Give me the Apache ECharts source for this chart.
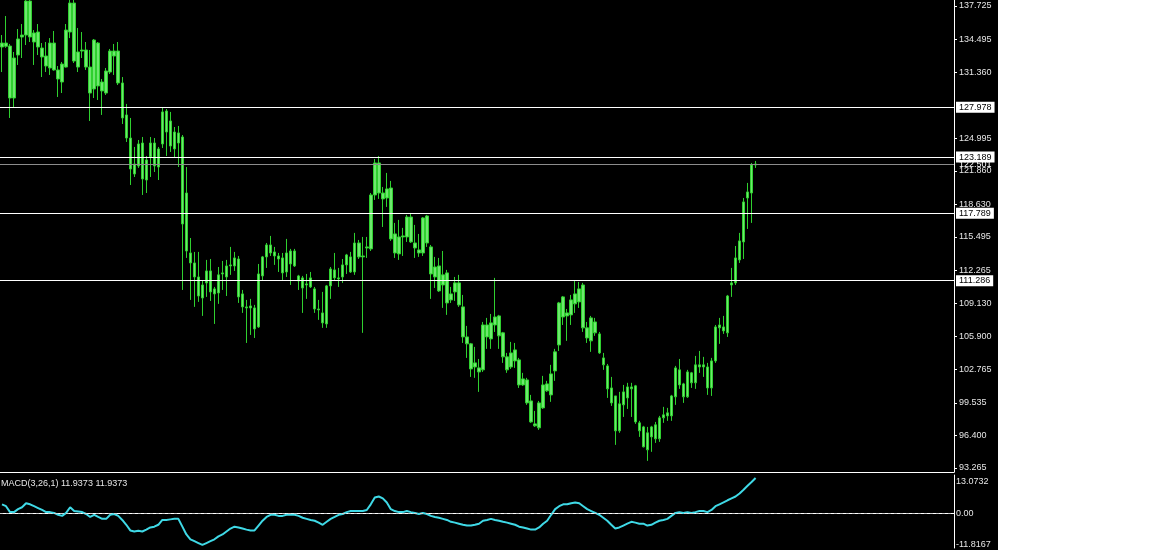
<!DOCTYPE html>
<html>
<head>
<meta charset="utf-8">
<script src="https://cdn.jsdelivr.net/npm/echarts@6/dist/echarts.min.js"></script>
<style>
html,body{margin:0;padding:0;background:#fff;}
#chart{width:998px;height:550px;}
</style>
</head>
<body>
<div id="chart"></div>
<script>
// ---- data ----
const opens  = [133.78,134.16,133.87,128.87,133.01,134.74,134.93,138.20,135.13,133.78,133.68,132.91,131.76,134.16,131.57,130.41,131.85,135.22,138.01,131.85,133.39,133.49,131.85,129.74,134.16,130.41,129.35,131.37,133.39,133.39,130.32,127.24,125.02,121.56,122.33,124.54,120.98,123.20,124.54,122.23,124.45,127.62,126.66,123.97,125.51,125.12,119.73,113.96,113.00,111.65,109.63,111.08,112.23,110.50,110.11,111.94,111.65,112.71,112.71,113.38,110.02,108.77,108.67,108.67,106.84,111.75,113.58,114.73,114.06,113.67,113.48,112.13,112.90,114.15,111.75,111.56,110.88,110.69,110.50,108.57,108.19,107.13,110.79,112.33,111.56,111.65,112.81,113.58,112.13,114.92,113.58,114.44,114.35,119.54,122.62,119.73,119.25,120.21,115.79,113.87,115.50,115.50,117.42,114.92,114.25,113.96,117.52,114.54,111.65,112.71,110.88,112.04,109.44,110.21,111.08,108.77,105.88,105.21,102.99,102.90,102.71,107.03,105.69,107.03,107.90,106.27,103.96,102.99,104.63,103.67,101.26,101.74,99.72,97.51,97.13,99.05,101.36,100.30,102.61,105.11,109.73,107.90,108.00,109.06,109.25,110.88,106.75,105.50,107.32,106.17,103.86,103.09,100.97,100.20,96.84,99.34,100.01,101.07,101.17,97.61,95.30,96.65,96.26,97.42,96.07,98.09,98.28,98.28,100.11,102.71,101.36,100.11,102.42,101.46,103.19,102.99,102.99,100.97,103.57,106.75,106.84,106.27,110.88,111.08,113.29,115.02,119.25,119.73,122.43];
const closes = [134.16,133.85,128.87,132.72,134.55,134.93,138.20,134.74,134.26,135.22,132.82,131.95,134.16,131.57,130.70,132.14,135.41,138.01,132.43,133.30,133.49,131.85,129.35,134.45,130.03,129.55,131.47,133.39,132.91,130.32,126.95,125.02,122.04,122.52,124.45,121.08,122.91,124.54,122.33,123.97,127.53,125.60,124.25,125.60,124.54,116.75,114.15,113.00,111.65,109.82,110.88,112.23,110.21,110.02,111.85,112.04,112.71,112.81,113.48,109.73,108.77,108.67,108.86,106.65,111.94,113.58,114.73,113.96,113.67,113.38,112.04,113.96,114.15,112.71,111.27,110.59,110.98,111.56,108.57,108.48,107.23,110.79,112.42,111.56,111.46,112.81,113.77,112.13,114.92,113.58,113.67,114.54,119.54,122.62,119.73,119.16,120.12,115.31,113.96,115.50,115.60,117.42,115.02,114.44,113.96,117.33,114.92,111.94,112.61,110.31,111.85,109.15,110.02,111.08,108.96,105.88,105.21,102.80,103.38,102.51,107.03,105.88,107.23,107.80,105.98,103.96,102.71,104.34,103.57,101.26,101.84,99.53,97.70,97.32,99.53,101.26,100.69,102.32,104.44,109.15,107.80,108.19,109.44,110.02,110.50,106.75,105.78,107.71,106.27,104.34,103.19,100.88,99.53,96.84,99.44,100.59,101.07,100.88,97.70,96.84,97.22,95.01,97.22,96.07,98.09,98.38,98.57,100.20,102.90,101.26,100.11,102.51,101.46,103.19,102.99,103.19,100.97,103.57,106.84,107.03,106.46,109.82,111.08,113.48,115.12,118.87,119.83,122.43,122.52];
const lows   = [131.37,133.70,126.95,127.91,132.05,132.72,133.97,134.26,132.05,133.01,130.89,131.37,131.09,131.50,128.97,129.35,131.80,134.64,132.24,131.37,132.72,131.57,126.66,128.87,128.68,127.24,129.16,131.18,131.09,130.12,126.37,124.64,120.50,121.27,122.14,119.54,119.73,121.27,121.75,120.98,124.06,123.29,123.68,123.10,122.23,110.40,113.48,109.44,108.77,109.25,107.90,109.73,109.34,107.13,109.06,110.40,109.82,111.85,112.23,109.15,108.19,105.30,106.07,105.78,106.75,111.27,112.52,113.67,112.81,112.13,111.36,111.65,110.88,112.61,110.40,108.19,109.54,110.59,108.19,107.52,106.75,106.75,109.54,111.27,110.69,111.08,111.94,112.04,111.85,113.38,106.27,113.48,114.15,119.06,119.16,116.46,118.39,115.12,113.48,113.29,113.67,115.02,114.92,113.48,113.58,113.67,114.54,109.54,110.59,110.21,108.67,108.00,109.15,109.34,108.77,105.30,103.86,102.03,101.94,100.59,102.51,104.73,104.73,106.36,104.73,103.38,102.42,102.80,102.90,100.97,101.17,99.34,97.61,97.22,96.93,98.95,100.59,99.63,101.65,104.53,107.03,105.50,107.03,108.19,108.67,106.36,105.30,104.44,105.98,104.25,102.71,100.01,99.24,95.49,96.65,98.18,98.95,98.18,97.51,96.26,95.25,93.95,94.82,95.68,95.78,97.61,97.80,97.80,99.34,100.88,99.53,100.01,100.97,100.88,102.42,102.03,100.30,100.20,103.38,105.21,106.17,105.88,109.73,110.88,113.00,113.38,116.27,116.85,122.14];
const highs  = [134.93,136.76,134.07,133.30,135.51,135.99,138.30,138.30,135.41,135.99,134.16,134.26,134.64,135.32,131.95,132.34,135.99,138.30,138.30,135.61,135.22,134.26,133.49,134.55,134.26,130.70,131.76,133.59,134.07,134.26,130.89,128.30,126.95,124.16,124.83,125.12,123.29,125.12,125.02,124.16,127.91,127.81,127.53,126.08,126.18,125.31,122.23,115.40,114.06,114.06,111.27,113.29,113.38,110.69,112.61,113.19,113.29,114.54,114.06,113.67,110.40,109.44,109.54,108.96,112.90,113.67,114.92,115.60,114.54,113.96,113.96,115.31,114.35,114.35,111.85,111.75,111.94,112.13,110.69,109.44,110.21,110.88,112.61,113.96,112.52,113.38,113.87,114.06,115.89,115.21,115.50,115.50,119.73,123.00,123.29,120.31,121.66,120.89,116.85,117.14,116.37,117.62,117.81,116.66,115.79,117.42,117.62,114.73,113.58,113.48,114.15,112.33,110.69,111.65,111.85,109.92,106.94,105.30,104.92,103.76,107.32,107.71,108.09,111.56,108.00,106.36,104.34,105.40,105.30,103.86,102.42,101.94,100.30,98.76,99.72,102.13,101.65,103.19,104.73,109.25,109.82,108.57,109.92,111.27,111.17,111.08,107.32,107.90,107.71,106.36,104.34,103.28,102.03,100.20,100.59,101.26,101.46,101.46,101.26,97.80,97.32,97.22,97.32,97.70,98.28,99.15,99.05,100.30,103.09,103.76,101.46,102.71,102.51,104.05,104.53,103.96,103.38,103.86,107.03,107.71,107.90,109.92,112.52,114.63,115.89,119.25,120.70,122.62,122.81];
const macdValues = [3.3,2.6,0.4,0.4,1.5,2.2,3.7,3.3,2.6,1.9,1.2,0.4,0.4,0.1,-0.6,-1.0,0.1,2.2,0.8,0.6,0.4,-0.3,-1.4,-0.6,-1.4,-2.1,-2.1,-0.6,-0.3,-1.0,-2.5,-4.3,-6.4,-6.8,-6.5,-6.8,-6.1,-5.3,-5.0,-4.3,-2.5,-2.5,-2.3,-2.1,-2.1,-5.0,-7.9,-9.7,-10.4,-11.1,-11.8,-11.1,-10.4,-9.7,-8.6,-7.9,-6.8,-5.7,-5.0,-5.3,-5.7,-6.1,-6.4,-6.4,-4.6,-2.8,-1.4,-0.6,-0.6,-1.0,-1.0,-0.6,-0.6,-0.6,-1.0,-1.7,-2.1,-2.5,-2.8,-3.5,-4.3,-3.2,-2.1,-1.4,-0.6,-0.3,0.4,0.8,0.8,0.8,0.8,1.2,3.3,5.8,6.2,5.5,4.0,1.5,0.8,0.4,0.4,0.8,0.4,0.1,-0.3,0.1,-0.3,-1.0,-1.4,-1.7,-2.1,-2.5,-3.2,-3.5,-3.9,-4.3,-4.6,-4.6,-4.3,-3.9,-2.8,-2.5,-2.1,-2.5,-2.8,-3.2,-3.5,-3.9,-4.3,-5.0,-5.3,-5.7,-6.1,-6.1,-5.3,-3.9,-2.8,-0.6,1.5,2.6,3.3,3.3,3.7,4.0,3.7,2.6,1.5,0.8,0.1,-0.6,-1.7,-2.8,-4.3,-5.7,-5.3,-4.6,-3.9,-3.2,-3.5,-3.9,-3.9,-4.6,-4.3,-3.5,-2.8,-2.5,-2.1,-1.0,0.1,0.4,0.1,0.4,0.1,0.4,0.8,0.8,0.4,1.2,2.6,3.3,4.0,4.8,5.5,6.2,7.3,8.7,10.2,11.6,13.07];
const priceTicks = [137.725,134.495,131.360,124.995,121.860,118.630,115.495,112.265,109.130,105.900,102.765,99.535,96.400,93.265];
const levelLines = [127.978,123.189,117.789,111.286];
const bidLine = 122.501;
const macdTicks = [13.0732,0,-11.8167];
const macdTitle = 'MACD(3,26,1) 11.9373 11.9373';
const totalSlots = 238; // bar slots incl. empty right margin

// ---- build ----
const categories = [];
for (let i = 0; i < totalSlots; i++) categories.push(String(i + 1));
const candleData = opens.map((o, i) => [o, closes[i], lows[i], highs[i]]);

const txt = '#e6e6e6';
const font = 'Liberation Sans';
const chart = echarts.init(document.getElementById('chart'));
const lineMarks = [{yAxis: bidLine, lineStyle:{color:'#8c8c8c'},
                    label:{color:'#ffffff', backgroundColor:'transparent', formatter: bidLine.toFixed(3)}}]
  .concat(levelLines.map(v => ({yAxis: v, label:{formatter: v.toFixed(3)}})));

chart.setOption({
  backgroundColor: '#000',
  animation: false,
  grid: [
    {left: 0, top: 0, width: 954, height: 472},
    {left: 0, top: 475, width: 954, height: 73}
  ],
  xAxis: [
    {type:'category', gridIndex:0, data:categories, boundaryGap:true,
     axisLine:{show:true, lineStyle:{color:'#fff', width:1}}, axisTick:{show:false}, axisLabel:{show:false}, splitLine:{show:false}},
    {type:'category', gridIndex:1, data:categories, boundaryGap:true, position:'top',
     axisLine:{show:true, lineStyle:{color:'#fff', width:1}}, axisTick:{show:false}, axisLabel:{show:false}, splitLine:{show:false}}
  ],
  yAxis: [
    {type:'value', gridIndex:0, position:'right', min:92.88, max:138.302, scale:true,
     axisLine:{show:true, lineStyle:{color:'#fff'}},
     axisTick:{show:true, length:3, lineStyle:{color:'#fff'}, customValues: priceTicks},
     axisLabel:{customValues: priceTicks, formatter: v => v.toFixed(3), color: txt, fontSize: 9, fontFamily: font, margin: 5},
     splitLine:{show:false}},
    {type:'value', gridIndex:1, position:'right', min:-12.931, max:14.188,
     axisLine:{show:true, lineStyle:{color:'#fff'}},
     axisTick:{show:false, customValues: macdTicks},
     axisLabel:{customValues: macdTicks,
       formatter: v => (v === 0 ? '0.00' : (v > 0 ? '{t|' + v.toFixed(4) + '}' : v.toFixed(4))),
       rich:{t:{padding:[7,0,0,0], color: txt, fontSize: 9, fontFamily: font}},
       color: txt, fontSize: 9, fontFamily: font, margin: 2},
     splitLine:{show:false}}
  ],
  graphic: [
    {type:'text', left: 1, top: 479, style:{text: macdTitle, fill: txt, font: '9px "Liberation Sans"'}}
  ],
  series: [
    {type:'candlestick', xAxisIndex:0, yAxisIndex:0, data: candleData, barWidth: 3, clip: true,
     itemStyle:{color:'#6ee86e', color0:'#6ee86e', borderColor:'#2fd02f', borderColor0:'#2fd02f', borderWidth:1},
     markLine:{silent:true, symbol:['none','none'], animation:false,
       lineStyle:{color:'#ffffff', width:1, type:'solid'},
       label:{show:true, position:'end', distance:2,
              color:'#000', backgroundColor:'#ffffff', padding:[1,3,0,3], fontSize:9, fontFamily: font, lineHeight: 10},
       data: lineMarks}
    },
    {type:'line', xAxisIndex:1, yAxisIndex:1, data: macdValues, symbol:'none', clip:true,
     lineStyle:{color:'#3fd9e6', width:2},
     markLine:{silent:true, symbol:['none','none'], animation:false,
       lineStyle:{color:'#cfcfcf', width:1, type:[3,3]}, label:{show:false},
       data:[{yAxis:0}]}
    }
  ]
});
</script>
</body>
</html>
